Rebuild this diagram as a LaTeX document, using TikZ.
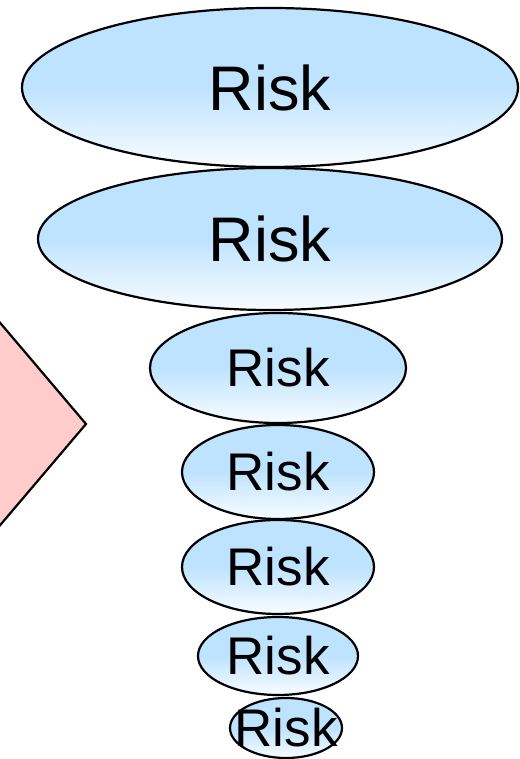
\documentclass[tikz,border=0pt]{standalone}
\usepackage{fontspec}
\setmainfont{Liberation Sans}
\usetikzlibrary{shapes.geometric}
\definecolor{riskblue}{RGB}{190,227,255}
\definecolor{riskwhite}{RGB}{248,252,255}
\definecolor{diapink}{RGB}{255,204,204}
\tikzset{
  risk/.style={ellipse, draw=black, line width=2.2pt, inner sep=0pt,
    top color=riskblue, bottom color=riskwhite, middle color=riskblue},
  bigtxt/.style={font=\fontsize{63}{63}\selectfont},
  smalltxt/.style={font=\fontsize{53}{53}\selectfont}
}
\begin{document}
\begin{tikzpicture}[x=1pt,y=1pt]
\useasboundingbox (0,0) rectangle (519,759);
\begin{scope}
\clip (0,0) rectangle (519,759);
\draw[fill=diapink, line width=2.2pt, line join=miter] (-15,454) coordinate (dtop) -- (86,335) coordinate (dright) -- (-15,216) coordinate (dbot) -- cycle;
\end{scope}
\node[risk, minimum width=496pt, minimum height=159pt] (r1) at (270,671.5) {};
\node[bigtxt] (t1) at (r1.center) {Risk};
\node[risk, minimum width=464pt, minimum height=142pt] (r2) at (270,520) {};
\node[bigtxt] (t2) at (r2.center) {Risk};
\node[risk, minimum width=256pt, minimum height=110pt] (r3) at (278,391) {};
\node[smalltxt] (t3) at (r3.center) {Risk};
\node[risk, minimum width=192pt, minimum height=94pt] (r4) at (278,287) {};
\node[smalltxt] (t4) at (r4.center) {Risk};
\node[risk, minimum width=192pt, minimum height=94pt] (r5) at (278,192) {};
\node[smalltxt] (t5) at (r5.center) {Risk};
\node[risk, minimum width=160pt, minimum height=78pt] (r6) at (278,103) {};
\node[smalltxt] (t6) at (r6.center) {Risk};
\node[risk, minimum width=112pt, minimum height=60pt] (r7) at (286,31) {};
\node[smalltxt] (t7) at (r7.center) {Risk};
\end{tikzpicture}
\end{document}
